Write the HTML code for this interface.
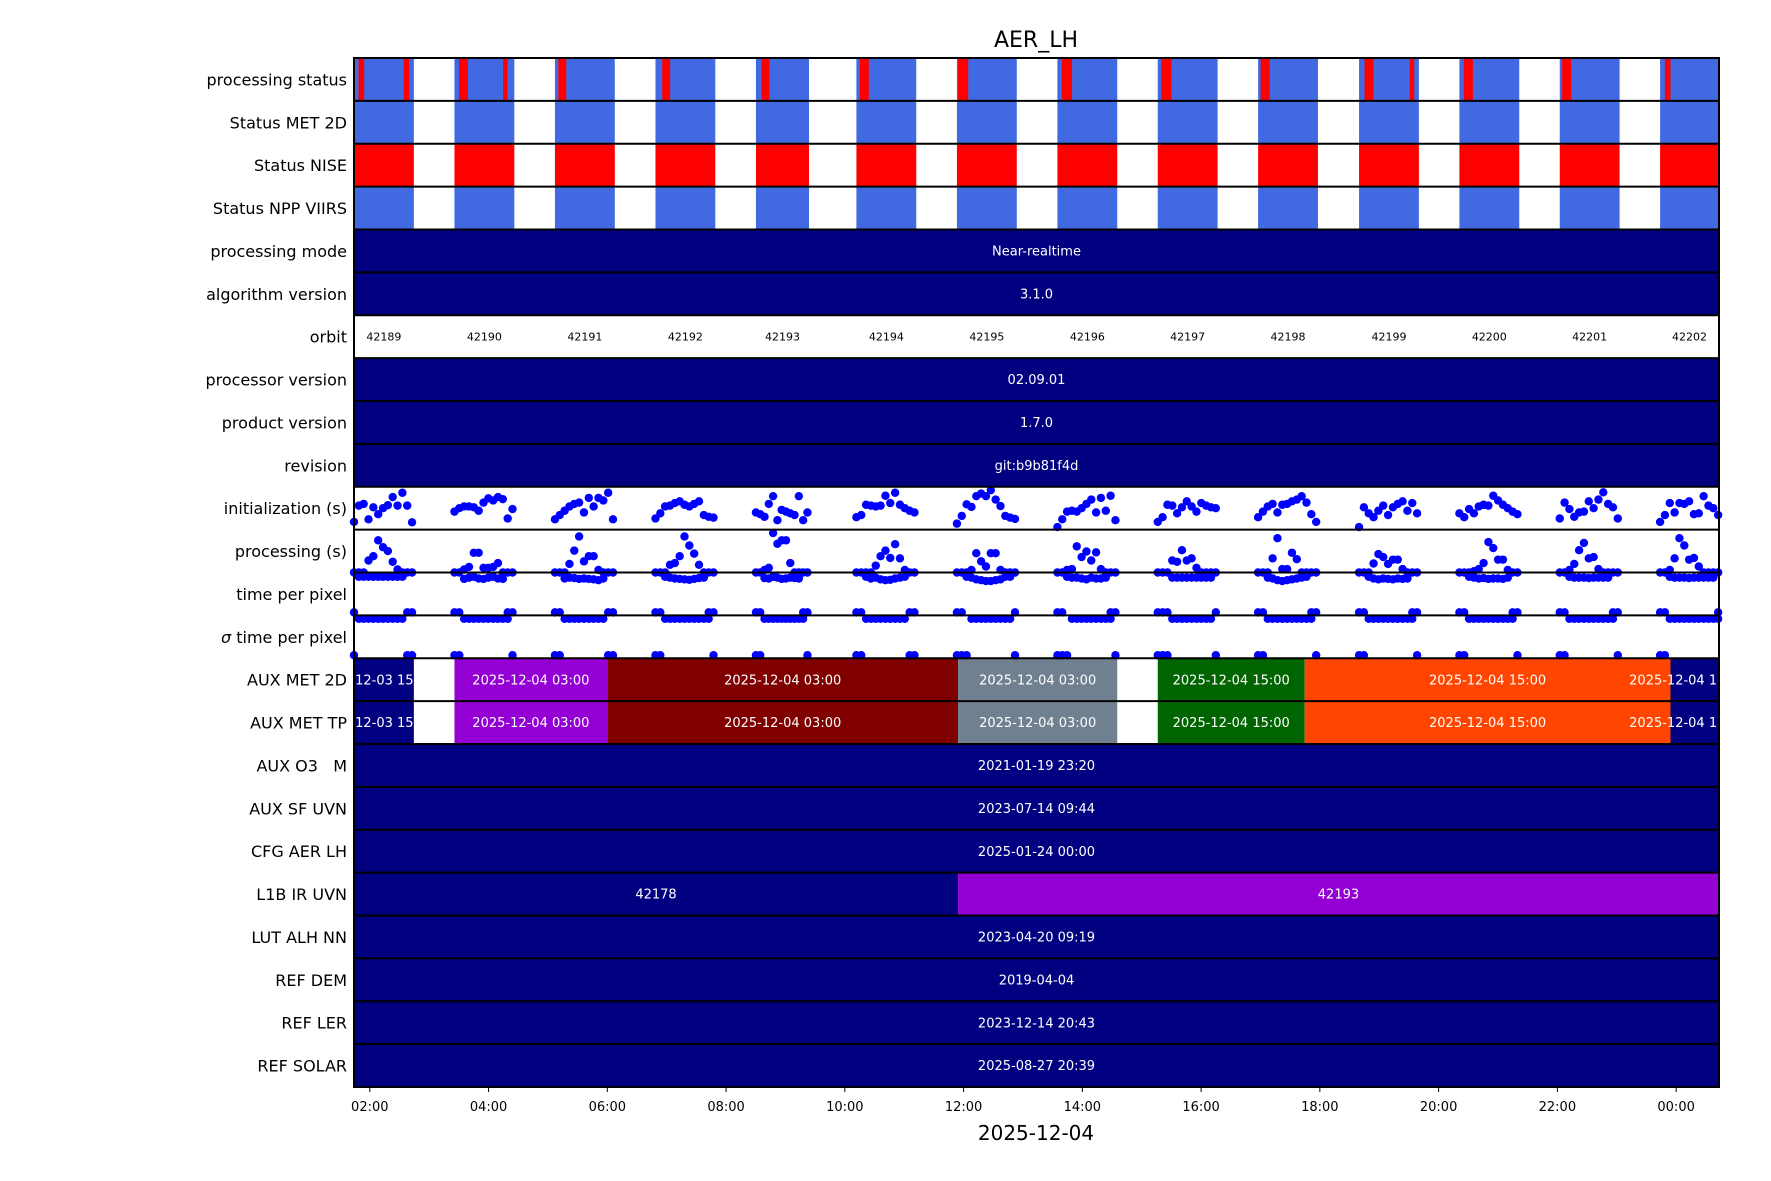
<!DOCTYPE html>
<html><head><meta charset="utf-8"><style>
html,body{margin:0;padding:0;background:#fff;}
svg{display:block;font-family:"DejaVu Sans","Liberation Sans",sans-serif;}
</style></head><body>
<svg id="chart" width="1771" height="1181" viewBox="0 0 1771 1181" xmlns="http://www.w3.org/2000/svg" overflow="visible">
<text x="1036" y="47" font-size="22" text-anchor="middle">AER_LH</text>
<text x="1036" y="1140" font-size="20" text-anchor="middle">2025-12-04</text>
<g id="bars"></g><g id="texts"></g><g id="dots"></g><g id="grid"></g><g id="axis"></g>
</svg>
<script>
const rowLabels=["processing status","Status MET 2D","Status NISE","Status NPP VIIRS","processing mode","algorithm version","orbit","processor version","product version","revision","initialization (s)","processing (s)","time per pixel","σ time per pixel","AUX MET 2D","AUX MET TP","AUX O3   M","AUX SF UVN","CFG AER LH","L1B IR UVN","LUT ALH NN","REF DEM","REF LER","REF SOLAR"];
const orbitNumbers=[42189,42190,42191,42192,42193,42194,42195,42196,42197,42198,42199,42200,42201,42202];
const orbitStart=[1.734,3.426,5.118,6.811,8.503,10.195,11.888,13.580,15.270,16.960,18.660,20.350,22.040,23.730];
const orbitEnd=[2.742,4.434,6.126,7.819,9.397,11.203,12.896,14.588,16.278,17.968,19.668,21.358,23.048,24.738];
const redIntervals=[[1.810,1.905],[2.570,2.665],[3.502,3.654],[4.244,4.320],[5.175,5.309],[6.925,7.058],[8.598,8.731],[10.252,10.404],[11.907,12.078],[13.656,13.827],[15.329,15.500],[17.003,17.155],[18.752,18.904],[19.513,19.589],[20.425,20.577],[22.080,22.232],[23.810,23.905]];
const constRows=[[4,"Near-realtime"],[5,"3.1.0"],[7,"02.09.01"],[8,"1.7.0"],[9,"git:b9b81f4d"],[16,"2021-01-19 23:20"],[17,"2023-07-14 09:44"],[18,"2025-01-24 00:00"],[20,"2023-04-20 09:19"],[21,"2019-04-04"],[22,"2023-12-14 20:43"],[23,"2025-08-27 20:39"]];
const auxStart=[0.7,3.426,6.0,11.907,15.270,17.745,23.905];
const auxEnd=[2.742,6.0,11.907,14.588,17.745,23.905,24.72];
const auxColors=["#000080","#9400D3","#800000","#708090","#006400","#FF4500","#000080"];
const auxText=["2025-12-03 15:00","2025-12-04 03:00","2025-12-04 03:00","2025-12-04 03:00","2025-12-04 15:00","2025-12-04 15:00","2025-12-04 15:00"];
const l1bStart=[0,11.907], l1bEnd=[11.907,24.72], l1bColors=["#000080","#9400D3"], l1bText=["42178","42193"];
const initVals=[
[1.8,5.6,6.0,2.4,5.2,3.6,5.0,5.7,7.6,5.6,8.6,5.6,1.7],
[4.2,5.0,5.4,5.4,5.2,4.4,6.3,7.3,6.8,7.6,7.1,2.6,4.8],
[2.4,3.4,4.4,5.4,6.0,6.3,4.0,7.4,5.4,7.4,6.8,8.6,2.4],
[2.6,3.8,5.4,5.6,6.2,6.6,5.8,5.4,6.0,6.6,3.4,3.0,2.8],
[4.0,3.6,3.0,6.0,7.8,2.2,4.6,4.2,3.8,3.4,7.8,2.2,4.0],
[2.9,3.4,5.8,5.6,5.4,5.6,7.9,6.2,8.6,5.8,5.0,4.4,4.0],
[1.4,3.2,5.9,5.3,7.8,8.4,7.8,9.2,7.0,5.5,3.2,2.8,2.5],
[0.6,2.4,4.2,4.4,4.2,5.0,6.0,7.0,4.0,7.4,4.4,7.9,2.2],
[1.8,2.9,5.8,5.6,3.8,5.2,6.6,5.4,4.2,6.2,5.6,5.2,5.0],
[2.9,4.2,5.4,6.0,4.0,5.8,6.0,6.6,7.0,7.8,6.3,3.6,1.8],
[0.6,5.2,3.8,2.9,4.4,5.6,3.4,5.2,6.0,6.6,4.4,6.2,3.8],
[3.8,2.9,4.8,3.8,5.4,5.8,5.6,7.9,6.8,5.8,5.0,4.2,3.6],
[2.6,6.3,4.8,3.0,4.0,4.2,6.6,5.0,7.0,8.7,6.0,5.2,2.6],
[1.8,3.4,6.2,4.0,6.2,6.0,6.6,3.6,3.8,7.8,5.6,5.0,3.4]];
const procVals=[
[0,0,0,2.8,3.8,7.5,5.9,5.0,2.5,0.7,0,0,0],
[0,0,0.7,1.3,4.6,4.6,1.1,1.1,1.3,2.2,0,0,0],
[0,0,0,2.0,5.1,8.4,2.6,3.8,3.8,0.6,0,0,0],
[0,0,0,1.8,2.2,3.8,8.4,6.3,4.4,1.8,0,0,0],
[0,0,0.6,1.1,9.2,6.7,7.5,7.5,2.2,0,0,0,0],
[0,0,0,0,1.6,3.8,5.1,3.4,6.6,3.3,0.6,0,0],
[0,0,0,0.6,4.5,2.6,1.4,4.5,4.5,0.6,0,0,0],
[0,0,0.6,0.8,6.1,3.6,4.9,2.8,4.7,0.8,0,0,0],
[0,0,0,2.8,2.5,5.2,2.8,3.3,1.1,0,0,0,0],
[0,0,0,3.3,8.0,0.8,0.8,4.6,3.1,0,0,0,0],
[0,0,0,2.1,4.3,3.6,2.0,3.0,3.0,0.8,0,0,0],
[0,0,0,0.3,0.8,2.2,7.1,5.7,3.0,3.0,0.6,0,0],
[0,0,0.6,2.0,5.2,6.9,3.3,3.6,0.8,0,0,0,0],
[0,0,0.6,3.3,8.0,6.3,3.0,3.4,1.4,0,0,0,0]];
const tppVals=[
[0.07,0.9,0.9,0.9,0.9,0.9,0.9,0.9,0.9,0.9,0.9,0.07,0.07],
[0.07,0.07,0.85,0.88,0.9,0.86,0.85,0.88,0.9,0.86,0.85,0.07,0.07],
[0.07,0.07,0.86,0.88,0.87,0.85,0.86,0.85,0.84,0.82,0.86,0.07,0.07],
[0.07,0.07,0.9,0.88,0.86,0.85,0.84,0.83,0.85,0.87,0.88,0.07,0.07],
[0.07,0.07,0.87,0.86,0.9,0.88,0.85,0.86,0.88,0.87,0.86,0.07,0.07],
[0.07,0.07,0.9,0.86,0.88,0.84,0.82,0.83,0.86,0.88,0.9,0.07,0.07],
[0.07,0.07,0.9,0.88,0.84,0.82,0.8,0.8,0.82,0.84,0.9,0.9,0.07],
[0.07,0.07,0.9,0.88,0.88,0.86,0.84,0.88,0.86,0.86,0.88,0.07,0.07],
[0.07,0.07,0.07,0.88,0.88,0.88,0.88,0.88,0.88,0.88,0.88,0.88,0.07],
[0.07,0.07,0.88,0.86,0.82,0.8,0.82,0.84,0.86,0.88,0.9,0.07,0.07],
[0.07,0.07,0.9,0.86,0.84,0.86,0.85,0.84,0.86,0.85,0.86,0.07,0.07],
[0.07,0.07,0.9,0.88,0.86,0.87,0.85,0.86,0.86,0.85,0.88,0.07,0.07],
[0.07,0.07,0.9,0.88,0.88,0.88,0.87,0.88,0.88,0.88,0.88,0.07,0.07],
[0.07,0.07,0.9,0.88,0.88,0.88,0.87,0.88,0.88,0.88,0.88,0.88,0.07]];
const sigmaVals=[
[0.07,0.92,0.92,0.92,0.92,0.92,0.92,0.92,0.92,0.92,0.92,0.07,0.07],
[0.07,0.07,0.92,0.92,0.92,0.92,0.92,0.92,0.92,0.92,0.92,0.92,0.07],
[0.07,0.07,0.92,0.92,0.92,0.92,0.92,0.92,0.92,0.92,0.92,0.07,0.07],
[0.07,0.07,0.92,0.92,0.92,0.92,0.92,0.92,0.92,0.92,0.92,0.92,0.07],
[0.07,0.07,0.92,0.92,0.92,0.92,0.92,0.92,0.92,0.92,0.92,0.92,0.07],
[0.07,0.07,0.92,0.92,0.92,0.92,0.92,0.92,0.92,0.92,0.92,0.07,0.07],
[0.07,0.07,0.07,0.92,0.92,0.92,0.92,0.92,0.92,0.92,0.92,0.92,0.07],
[0.07,0.07,0.07,0.92,0.92,0.92,0.92,0.92,0.92,0.92,0.92,0.92,0.07],
[0.07,0.07,0.07,0.92,0.92,0.92,0.92,0.92,0.92,0.92,0.92,0.92,0.07],
[0.07,0.07,0.92,0.92,0.92,0.92,0.92,0.92,0.92,0.92,0.92,0.92,0.07],
[0.07,0.07,0.92,0.92,0.92,0.92,0.92,0.92,0.92,0.92,0.92,0.92,0.07],
[0.07,0.07,0.92,0.92,0.92,0.92,0.92,0.92,0.92,0.92,0.92,0.92,0.07],
[0.07,0.07,0.92,0.92,0.92,0.92,0.92,0.92,0.92,0.92,0.92,0.92,0.07],
[0.07,0.07,0.92,0.92,0.92,0.92,0.92,0.92,0.92,0.92,0.92,0.92,0.92]];
const tickLabels=["02:00","04:00","06:00","08:00","10:00","12:00","14:00","16:00","18:00","20:00","22:00","00:00"];
const tickHours=[2,4,6,8,10,12,14,16,18,20,22,24];

const NS="http://www.w3.org/2000/svg";
const L=354,R=1719,T=58,RH=42.875,N=rowLabels.length,B=T+RH*N;
const H0=1.734,H1=24.722;
function xs(h){return Math.max(L,Math.min(R,L+(h-H0)/(H1-H0)*(R-L)));}
function xr(h){return L+(h-H0)/(H1-H0)*(R-L);}
function ry(i){return T+i*RH;}
function mk(tag,attrs,parent,txt){const e=document.createElementNS(NS,tag);for(const k in attrs)e.setAttribute(k,attrs[k]);if(txt!==undefined)e.textContent=txt;document.getElementById(parent).appendChild(e);return e;}
function rect(i,h0,h1,fill,name){const x0=xs(h0),x1=xs(h1);const e=mk("rect",{x:x0,y:ry(i),width:Math.max(0,x1-x0),height:RH,fill:fill},"bars");

return e;}
function txt(i,h,s,size,fill,name,dx){const e=mk("text",{x:xr(h)+(dx||0),y:ry(i)+RH/2+size*0.36,"font-size":size,fill:fill,"text-anchor":"middle"},"texts",s);

return e;}
for(let k=0;k<orbitStart.length;k++){
  rect(0,orbitStart[k],orbitEnd[k],"#4169E1","processing-status-orbit");
  rect(1,orbitStart[k],orbitEnd[k],"#4169E1","status-met-2d-orbit");
  rect(2,orbitStart[k],orbitEnd[k],"#FF0000","status-nise-orbit");
  rect(3,orbitStart[k],orbitEnd[k],"#4169E1","status-npp-viirs-orbit");
  txt(6,(orbitStart[k]+Math.min(orbitEnd[k],H1))/2,String(orbitNumbers[k]),11,"#000","orbit-number");
}
for(const r of redIntervals){rect(0,r[0],r[1],"#FF0000","processing-status-error");}
for(const c of constRows){rect(c[0],H0,H1,"#000080","constant-bar");}
for(let k=0;k<auxStart.length;k++){
  for(const i of [14,15]){rect(i,auxStart[k],auxEnd[k],auxColors[k],"aux-met-segment");}
}
for(let k=0;k<l1bStart.length;k++){rect(19,l1bStart[k],l1bEnd[k],l1bColors[k],"l1b-segment");}
for(const c of constRows){txt(c[0],(H0+H1)/2,c[1],13,"#fff","constant-bar-label");}
for(let k=0;k<auxStart.length;k++){
  const cc=k===0?(H0+auxEnd[k])/2:(k===6?(auxStart[k]+H1)/2:(auxStart[k]+auxEnd[k])/2);
  const dx=k===0?-8:(k===6?-7:0);
  for(const i of [14,15]){txt(i,cc,auxText[k],13,"#fff","aux-met-label",dx);}
}
for(let k=0;k<l1bStart.length;k++){txt(19,(Math.max(l1bStart[k],H0)+Math.min(l1bEnd[k],H1))/2,l1bText[k],13,"#fff","l1b-label");}
function dotsRow(i,vals,vmin,vmax,name){
  for(let k=0;k<vals.length;k++){
    const n=vals[k].length,s=orbitStart[k],e=Math.min(orbitEnd[k],H1+0.02);
    for(let j=0;j<n;j++){
      const h=s+(j/(n-1))*(e-s)*0.97;
      const v=(vals[k][j]-vmin)/(vmax-vmin);
      const d=mk("circle",{cx:xr(h),cy:ry(i)+RH-v*RH,r:4.2,fill:"#0000FF"},"dots");
      
      
    }
  }
}
dotsRow(10,initVals,0,10,"initialization-point");
dotsRow(11,procVals,0,10,"processing-point");
dotsRow(12,tppVals,0,1,"time-per-pixel-point");
dotsRow(13,sigmaVals,0,1,"sigma-time-per-pixel-point");
for(let i=0;i<N;i++){
  if(i>0){const g=mk("line",{x1:L,x2:R,y1:ry(i),y2:ry(i),stroke:"#000","stroke-width":2},"grid");
  
  }
  const t=mk("text",{x:347,y:ry(i)+RH/2+6,"font-size":16,"text-anchor":"end",style:"white-space:pre"},"axis");
  if(rowLabels[i].startsWith("σ")){const a=document.createElementNS(NS,"tspan");a.setAttribute("font-style","italic");a.textContent="σ";t.appendChild(a);t.appendChild(document.createTextNode(rowLabels[i].slice(1)));}
  else t.textContent=rowLabels[i];
  
  
}
const fr=mk("rect",{x:L,y:T,width:R-L,height:B-T,fill:"none",stroke:"#000","stroke-width":2},"axis");


for(let k=0;k<tickHours.length;k++){
  const x=xr(tickHours[k]);
  const tk=mk("line",{x1:x,x2:x,y1:B,y2:B+5,stroke:"#000","stroke-width":1},"axis");
  
  
  const tl=mk("text",{x:x,y:B+24,"font-size":13,"text-anchor":"middle"},"axis",tickLabels[k]);
  
  
}
</script>
</body></html>
